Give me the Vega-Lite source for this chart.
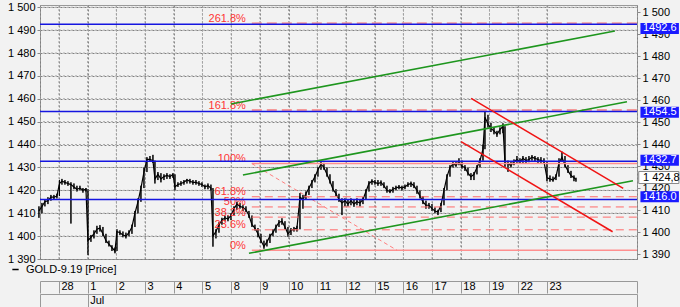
{
"$schema": "https://vega.github.io/schema/vega-lite/v6.json",
"width": 597, "height": 254,
"autosize": {"type": "none"},
"padding": {"left": 40, "top": 5, "right": 43, "bottom": 48},
"background": "#f2f2f2",
"config": {"view": {"stroke": "#999999", "fill": "#f2f2f2"}, "font": "Liberation Sans",
  "axis": {"labelFont": "Liberation Sans", "labelFontSize": 11, "labelColor": "#000000", "labelOverlap": false, "labelFlush": false,
    "gridColor": "#808080", "gridDash": [2, 2], "gridWidth": 1, "gridOpacity": 1}},
"datasets": {
"xgrid": [{"d":0},{"d":1},{"d":2},{"d":3},{"d":4},{"d":5},{"d":6},{"d":7},{"d":8},{"d":9},{"d":10},{"d":11},{"d":12},{"d":13},{"d":14},{"d":15},{"d":16},{"d":17}],
"ygrid": [{"g":1400},{"g":1410},{"g":1420},{"g":1430},{"g":1440},{"g":1450},{"g":1460},{"g":1470},{"g":1480},{"g":1490},{"g":1500}],
"price": [
{"t":-0.697,"c":1411,"lo":1408,"hi":1413},{"t":-0.592,"c":1413,"lo":1410,"hi":1414.5},{"t":-0.488,"c":1415,"lo":1413,"hi":1416},{"t":-0.383,"c":1415.5,"lo":1414,"hi":1417},{"t":-0.279,"c":1417,"lo":1415.5,"hi":1418},{"t":-0.174,"c":1417,"lo":1416,"hi":1418},{"t":-0.07,"c":1417.5,"lo":1416.5,"hi":1418.5},
{"t":0.017,"c":1423,"lo":1417.5,"hi":1424.5},{"t":0.105,"c":1424,"lo":1422.5,"hi":1425},{"t":0.209,"c":1423.5,"lo":1422.5,"hi":1424.5},{"t":0.314,"c":1423,"lo":1422,"hi":1424},{"t":0.418,"c":1422.5,"lo":1405.5,"hi":1423.5},{"t":0.523,"c":1421.5,"lo":1420.5,"hi":1423},{"t":0.627,"c":1420.5,"lo":1419.5,"hi":1422},{"t":0.732,"c":1421,"lo":1420,"hi":1422},{"t":0.836,"c":1420,"lo":1419,"hi":1421},{"t":0.941,"c":1420.5,"lo":1419.5,"hi":1421},
{"t":1.01,"c":1398,"lo":1391.7,"hi":1420.5},{"t":1.115,"c":1399.5,"lo":1397.5,"hi":1400.5},{"t":1.22,"c":1401,"lo":1399,"hi":1402.5},{"t":1.324,"c":1403,"lo":1401,"hi":1404.5},{"t":1.429,"c":1403.5,"lo":1402,"hi":1404.8},{"t":1.533,"c":1401,"lo":1400,"hi":1404},{"t":1.638,"c":1398,"lo":1397,"hi":1401},{"t":1.742,"c":1396.5,"lo":1395.5,"hi":1398},{"t":1.847,"c":1395,"lo":1393.5,"hi":1396},{"t":1.951,"c":1393.5,"lo":1392.5,"hi":1395},
{"t":2.021,"c":1402,"lo":1393.5,"hi":1403},{"t":2.125,"c":1401.5,"lo":1400.5,"hi":1402.5},{"t":2.23,"c":1400.5,"lo":1399.5,"hi":1402},{"t":2.334,"c":1400,"lo":1399,"hi":1401.5},{"t":2.439,"c":1401.5,"lo":1400,"hi":1402.5},{"t":2.544,"c":1404,"lo":1401,"hi":1405},{"t":2.648,"c":1410,"lo":1404,"hi":1411},{"t":2.753,"c":1415,"lo":1410,"hi":1416.5},{"t":2.857,"c":1421,"lo":1415,"hi":1422},{"t":2.962,"c":1428,"lo":1421,"hi":1430},
{"t":3.066,"c":1433.5,"lo":1428,"hi":1434.5},{"t":3.171,"c":1433.5,"lo":1432.5,"hi":1435},{"t":3.275,"c":1433,"lo":1432,"hi":1435.5},{"t":3.345,"c":1425,"lo":1423,"hi":1433},{"t":3.449,"c":1427,"lo":1424.5,"hi":1428},{"t":3.554,"c":1425,"lo":1423.5,"hi":1427.5},{"t":3.659,"c":1426,"lo":1424.5,"hi":1427},{"t":3.763,"c":1426.5,"lo":1425,"hi":1427.5},{"t":3.868,"c":1426,"lo":1425,"hi":1427},{"t":3.972,"c":1427,"lo":1425.5,"hi":1427.5},
{"t":4.042,"c":1421.5,"lo":1420,"hi":1427},{"t":4.146,"c":1422.5,"lo":1421.5,"hi":1423.5},{"t":4.251,"c":1423,"lo":1422,"hi":1424},{"t":4.355,"c":1423.5,"lo":1422.5,"hi":1424.5},{"t":4.46,"c":1424.5,"lo":1423,"hi":1425},{"t":4.564,"c":1424,"lo":1423,"hi":1425},{"t":4.669,"c":1423.5,"lo":1422.5,"hi":1424.5},{"t":4.774,"c":1423.5,"lo":1422.5,"hi":1424.5},{"t":4.878,"c":1423,"lo":1422,"hi":1424},{"t":4.983,"c":1422.5,"lo":1421.5,"hi":1423.5},
{"t":5.087,"c":1421.5,"lo":1420.5,"hi":1422.5},{"t":5.192,"c":1422,"lo":1420.5,"hi":1423},{"t":5.296,"c":1421,"lo":1420,"hi":1422.5},{"t":5.366,"c":1400,"lo":1395.4,"hi":1421},{"t":5.47,"c":1402,"lo":1399,"hi":1403},{"t":5.575,"c":1405,"lo":1401.5,"hi":1406},{"t":5.679,"c":1407,"lo":1405,"hi":1408},{"t":5.784,"c":1408,"lo":1406.5,"hi":1409},{"t":5.889,"c":1407.5,"lo":1406.5,"hi":1409},{"t":5.993,"c":1409,"lo":1407,"hi":1410},
{"t":6.098,"c":1412,"lo":1409,"hi":1413},{"t":6.202,"c":1414,"lo":1411.5,"hi":1415},{"t":6.307,"c":1413,"lo":1412,"hi":1414.5},{"t":6.411,"c":1412.5,"lo":1411,"hi":1413.5},{"t":6.516,"c":1411.5,"lo":1410.5,"hi":1413},{"t":6.62,"c":1409,"lo":1408,"hi":1411},{"t":6.725,"c":1405,"lo":1404,"hi":1409},{"t":6.829,"c":1403.5,"lo":1402.5,"hi":1405},{"t":6.934,"c":1401,"lo":1399.5,"hi":1403.5},
{"t":7.038,"c":1398,"lo":1397,"hi":1401},{"t":7.143,"c":1395.5,"lo":1394.5,"hi":1398},{"t":7.247,"c":1397.5,"lo":1395.5,"hi":1398.5},{"t":7.352,"c":1400,"lo":1397,"hi":1401},{"t":7.456,"c":1401.5,"lo":1400,"hi":1403},{"t":7.561,"c":1404,"lo":1401.5,"hi":1405},{"t":7.666,"c":1406,"lo":1404,"hi":1407},{"t":7.77,"c":1406.5,"lo":1405,"hi":1407.8},{"t":7.875,"c":1404,"lo":1403,"hi":1406.5},{"t":7.979,"c":1401,"lo":1399.7,"hi":1404},
{"t":8.084,"c":1402.5,"lo":1400.5,"hi":1403.5},{"t":8.188,"c":1403,"lo":1402,"hi":1404},{"t":8.293,"c":1403.5,"lo":1402,"hi":1404.5},{"t":8.397,"c":1417,"lo":1403,"hi":1418.8},{"t":8.502,"c":1416,"lo":1412,"hi":1418},{"t":8.606,"c":1418.5,"lo":1416,"hi":1419.5},{"t":8.711,"c":1421,"lo":1418,"hi":1422},{"t":8.815,"c":1423.5,"lo":1421,"hi":1424.5},{"t":8.92,"c":1426,"lo":1423.5,"hi":1427},
{"t":9.024,"c":1429,"lo":1426,"hi":1430},{"t":9.129,"c":1431.5,"lo":1429,"hi":1432.5},{"t":9.233,"c":1430,"lo":1429,"hi":1432},{"t":9.338,"c":1427,"lo":1426,"hi":1430},{"t":9.443,"c":1424,"lo":1423,"hi":1427},{"t":9.547,"c":1420.5,"lo":1419.5,"hi":1424},{"t":9.652,"c":1418.5,"lo":1417.5,"hi":1420.5},{"t":9.756,"c":1416,"lo":1415,"hi":1418.5},{"t":9.861,"c":1414.5,"lo":1409.2,"hi":1416.5},{"t":9.965,"c":1415.5,"lo":1413,"hi":1416.5},
{"t":10.07,"c":1414,"lo":1413,"hi":1416},{"t":10.174,"c":1415.5,"lo":1413.5,"hi":1416.5},{"t":10.279,"c":1414,"lo":1412.8,"hi":1416},{"t":10.383,"c":1415,"lo":1413.5,"hi":1416.5},{"t":10.488,"c":1414.5,"lo":1413,"hi":1416},{"t":10.592,"c":1416,"lo":1414,"hi":1417},{"t":10.697,"c":1419.5,"lo":1416,"hi":1420.5},{"t":10.801,"c":1423,"lo":1419.5,"hi":1424},{"t":10.906,"c":1424,"lo":1422.5,"hi":1424.8},
{"t":11.01,"c":1423.5,"lo":1422.5,"hi":1424.5},{"t":11.115,"c":1423,"lo":1422,"hi":1424.5},{"t":11.22,"c":1423.5,"lo":1422,"hi":1424.3},{"t":11.324,"c":1422,"lo":1421,"hi":1423.5},{"t":11.429,"c":1420,"lo":1419,"hi":1422},{"t":11.533,"c":1419.5,"lo":1418.8,"hi":1420.5},{"t":11.638,"c":1420.5,"lo":1419,"hi":1421.5},{"t":11.742,"c":1421,"lo":1420,"hi":1422},{"t":11.847,"c":1421.5,"lo":1420.5,"hi":1422.3},{"t":11.951,"c":1421,"lo":1420,"hi":1422},
{"t":12.056,"c":1421.5,"lo":1420.5,"hi":1422.5},{"t":12.16,"c":1422.5,"lo":1421.5,"hi":1423.5},{"t":12.265,"c":1423,"lo":1421.5,"hi":1423.8},{"t":12.369,"c":1422,"lo":1421,"hi":1423.5},{"t":12.474,"c":1420,"lo":1418.5,"hi":1422},{"t":12.578,"c":1417.5,"lo":1416.5,"hi":1420},{"t":12.683,"c":1415,"lo":1414,"hi":1417.5},{"t":12.787,"c":1413.5,"lo":1412,"hi":1415.5},{"t":12.892,"c":1413.5,"lo":1412,"hi":1414.5},{"t":12.997,"c":1412,"lo":1411,"hi":1414},
{"t":13.101,"c":1411,"lo":1410,"hi":1412.5},{"t":13.206,"c":1410.5,"lo":1409.2,"hi":1411.5},{"t":13.31,"c":1413.5,"lo":1410.5,"hi":1414.5},{"t":13.415,"c":1420,"lo":1413.5,"hi":1421},{"t":13.519,"c":1426,"lo":1420,"hi":1427},{"t":13.624,"c":1430,"lo":1426,"hi":1431},{"t":13.728,"c":1431.5,"lo":1430,"hi":1432.5},{"t":13.833,"c":1431,"lo":1430.3,"hi":1432.5},{"t":13.937,"c":1432.5,"lo":1431,"hi":1434},
{"t":14.042,"c":1430.5,"lo":1429.5,"hi":1433},{"t":14.146,"c":1430,"lo":1428.5,"hi":1431},{"t":14.251,"c":1427.5,"lo":1426.5,"hi":1430},{"t":14.355,"c":1426,"lo":1424.5,"hi":1427.5},{"t":14.46,"c":1427,"lo":1424.5,"hi":1428},{"t":14.564,"c":1430,"lo":1427,"hi":1431},{"t":14.669,"c":1433,"lo":1430,"hi":1434},{"t":14.774,"c":1438,"lo":1433,"hi":1440},{"t":14.843,"c":1452,"lo":1438,"hi":1455.1},{"t":14.948,"c":1449,"lo":1447.5,"hi":1453},
{"t":15.052,"c":1447,"lo":1445.5,"hi":1449.5},{"t":15.157,"c":1446,"lo":1444.5,"hi":1447.5},{"t":15.261,"c":1444.5,"lo":1443.4,"hi":1446},{"t":15.366,"c":1446.5,"lo":1444.5,"hi":1447.5},{"t":15.47,"c":1448,"lo":1445,"hi":1449.3},{"t":15.54,"c":1432,"lo":1430.3,"hi":1448},{"t":15.645,"c":1431.5,"lo":1428.1,"hi":1433},{"t":15.749,"c":1431,"lo":1430,"hi":1432.5},{"t":15.854,"c":1432.5,"lo":1431,"hi":1433.5},{"t":15.958,"c":1433.5,"lo":1432,"hi":1435},
{"t":16.063,"c":1432.5,"lo":1431.8,"hi":1434},{"t":16.167,"c":1434,"lo":1432,"hi":1435},{"t":16.272,"c":1433,"lo":1432,"hi":1434.5},{"t":16.376,"c":1433.5,"lo":1432.3,"hi":1435},{"t":16.481,"c":1434.5,"lo":1433,"hi":1435.4},{"t":16.585,"c":1434,"lo":1432.5,"hi":1435},{"t":16.69,"c":1433.5,"lo":1432,"hi":1434.5},{"t":16.794,"c":1433,"lo":1432,"hi":1434.5},{"t":16.899,"c":1432.5,"lo":1431.5,"hi":1434},
{"t":17.003,"c":1425.5,"lo":1424,"hi":1432.5},{"t":17.108,"c":1425,"lo":1423.8,"hi":1426.5},{"t":17.213,"c":1424.5,"lo":1423.8,"hi":1426},{"t":17.317,"c":1426,"lo":1424.5,"hi":1427},{"t":17.422,"c":1432,"lo":1426,"hi":1434},{"t":17.526,"c":1434.5,"lo":1432.5,"hi":1436.9},{"t":17.631,"c":1431,"lo":1430,"hi":1435},{"t":17.735,"c":1428.5,"lo":1427.6,"hi":1431},{"t":17.84,"c":1426.5,"lo":1425.4,"hi":1428.5},{"t":17.944,"c":1425.5,"lo":1424,"hi":1426.5},{"t":18.014,"c":1424.8,"lo":1423.8,"hi":1425.5}
],
"fib": [
{"pct":0,"lab":"0%","v":1393.8},{"pct":23.6,"lab":"23.6%","v":1402.75},{"pct":38.2,"lab":"38.2%","v":1408.3},{"pct":50,"lab":"50%","v":1412.75},{"pct":61.8,"lab":"61.8%","v":1417.2},{"pct":100,"lab":"100%","v":1431.7},{"pct":161.8,"lab":"161.8%","v":1455.1},{"pct":261.8,"lab":"261.8%","v":1493.0}
],
"levels": [{"level":1492.6},{"level":1454.5},{"level":1432.7},{"level":1416.0}],
"green": [
{"id":"g1","t":5.99,"v":1457.7},{"id":"g1","t":19.37,"v":1489.6},
{"id":"g2","t":6.41,"v":1426.7},{"id":"g2","t":19.79,"v":1458.7},
{"id":"g3","t":6.62,"v":1392.5},{"id":"g3","t":20.0,"v":1424.2}
],
"red": [
{"id":"r1","t":14.36,"v":1460.2},{"id":"r1","t":19.66,"v":1420.9},
{"id":"r2","t":14.01,"v":1441.3},{"id":"r2","t":19.29,"v":1401.9}
],
"diag": [{"t":6.72,"v":1431.7},{"t":11.78,"v":1393.8}],
"last": [{"price":1424.8,"lab":"1 424,8"}]
},
"layer": [
{
"layer": [
{"data": {"name": "price"},
 "mark": {"type": "rule", "color": "#000000", "strokeWidth": 1},
 "encoding": {
  "x": {"field": "t", "type": "quantitative", "scale": {"domain": [-0.66, 20.14], "nice": false, "zero": false},
   "axis": {"title": null, "orient": "bottom", "offset": 22, "tickCount": 100,
     "values": [-0.66,0,1,2,3,4,5,6,7,8,9,10,11,12,13,14,15,16,17,20.14],
     "grid": true, "labelOverlap": false,
     "domainColor": "#999999", "tickColor": "#999999", "tickSize": 12,
     "labelAlign": "left", "labelBaseline": "middle", "labelPadding": -7, "labelOffset": 2,
     "labelExpr": "datum.value >= 0 && datum.value <= 17 ? ['28','1','2','3','4','5','8','9','10','11','12','15','16','17','18','19','22','23'][datum.value] : ''"}},
  "y": {"field": "lo", "type": "quantitative", "scale": {"domain": [1390, 1501], "nice": false, "zero": false},
   "axis": {"title": null, "orient": "left", "tickCount": 100, "values": [1390,1400,1410,1420,1430,1440,1450,1460,1470,1480,1490,1500],
     "grid": true, "labelOverlap": false, "domain": false, "tickColor": "#888888", "tickSize": 3,
     "labelPadding": 2, "labelExpr": "replace(format(datum.value, ','), ',', ' ')"}},
  "y2": {"field": "hi"}
 }},
{"data": {"name": "xgrid"},
 "mark": {"type": "rule", "color": "#a6a6a6", "strokeWidth": 1, "strokeDash": [2, 2]},
 "encoding": {"x": {"field": "d", "type": "quantitative"}}},
{"data": {"name": "ygrid"},
 "mark": {"type": "rule", "color": "#a6a6a6", "strokeWidth": 1, "strokeDash": [2, 2]},
 "encoding": {"y": {"field": "g", "type": "quantitative"}}},
{"data": {"name": "price"},
 "mark": {"type": "rule", "color": "#000000", "strokeWidth": 1},
 "encoding": {"x": {"field": "t", "type": "quantitative"}, "y": {"field": "lo", "type": "quantitative"}, "y2": {"field": "hi"}}},
{"data": {"name": "price"},
 "mark": {"type": "line", "strokeWidth": 1.2},
 "encoding": {
  "x": {"field": "t", "type": "quantitative"},
  "y": {"field": "c", "type": "quantitative"},
  "color": {"datum": "GOLD-9.19 [Price]", "type": "nominal", "scale": {"range": ["#000000"]},
   "legend": {"orient": "none", "legendX": -30, "legendY": 259, "title": null, "symbolType": "stroke",
     "symbolSize": 40, "symbolStrokeWidth": 1.5, "labelFontSize": 11, "labelColor": "#000000",
     "labelFont": "Liberation Sans", "labelOffset": 5}}
 }},
{"data": {"name": "fib"},
 "transform": [{"filter": "datum.pct == 0 || datum.pct == 100"}],
 "mark": {"type": "rule", "color": "#ff8f8f", "strokeWidth": 1.5},
 "encoding": {"x": {"datum": 6.72, "type": "quantitative"}, "x2": {"datum": 20.14}, "y": {"field": "v", "type": "quantitative"}}},
{"data": {"name": "fib"},
 "transform": [{"filter": "datum.pct > 0 && datum.pct < 100"}],
 "mark": {"type": "rule", "color": "#ff6a6a", "strokeWidth": 1, "strokeDash": [8, 5]},
 "encoding": {"x": {"datum": 6.72, "type": "quantitative"}, "x2": {"datum": 20.14}, "y": {"field": "v", "type": "quantitative"}}},
{"data": {"name": "fib"},
 "transform": [{"filter": "datum.pct > 100"}],
 "mark": {"type": "rule", "color": "#f59a9a", "strokeWidth": 2, "strokeDash": [10, 5]},
 "encoding": {"x": {"datum": 6.72, "type": "quantitative"}, "x2": {"datum": 20.14}, "y": {"field": "v", "type": "quantitative"}}},
{"data": {"name": "diag"},
 "mark": {"type": "line", "color": "#ff8080", "strokeWidth": 1, "strokeDash": [4, 3]},
 "encoding": {"x": {"field": "t", "type": "quantitative"}, "y": {"field": "v", "type": "quantitative"}}},
{"data": {"name": "fib"},
 "mark": {"type": "text", "color": "#ff3535", "fontSize": 11, "align": "right", "baseline": "alphabetic", "dx": -6, "dy": -1.5},
 "encoding": {"x": {"datum": 6.72, "type": "quantitative"}, "y": {"field": "v", "type": "quantitative"}, "text": {"field": "lab"}}},
{"data": {"name": "levels"},
 "mark": {"type": "rule", "color": "#1515e0", "strokeWidth": 1.5},
 "encoding": {"y": {"field": "level", "type": "quantitative"}}},
{"data": {"name": "green"},
 "mark": {"type": "line", "color": "#1e961e", "strokeWidth": 1.6},
 "encoding": {"x": {"field": "t", "type": "quantitative"}, "y": {"field": "v", "type": "quantitative"}, "detail": {"field": "id"}}},
{"data": {"name": "red"},
 "mark": {"type": "line", "color": "#f01414", "strokeWidth": 1.5},
 "encoding": {"x": {"field": "t", "type": "quantitative"}, "y": {"field": "v", "type": "quantitative"}, "detail": {"field": "id"}}}
]
},
{
"layer": [
{"data": {"name": "levels"},
 "mark": {"type": "bar", "color": "#1a1aff", "height": 11, "orient": "horizontal"},
 "encoding": {
  "x": {"datum": 20.26, "type": "quantitative", "scale": {"domain": [-0.66, 20.14], "nice": false, "zero": false},
   "axis": {"title": null, "orient": "bottom", "offset": 35, "tickCount": 100, "values": [-0.66, 1, 20.14], "grid": false, "labelOverlap": false,
     "domainColor": "#999999", "tickColor": "#999999", "tickSize": 13,
     "labelAlign": "left", "labelBaseline": "middle", "labelPadding": -7, "labelOffset": 2,
     "labelExpr": "datum.value == 1 ? 'Jul' : ''"}},
  "x2": {"datum": 21.6},
  "y": {"field": "level", "type": "quantitative", "scale": {"domain": [1390, 1501], "nice": false, "zero": false},
   "axis": {"title": null, "orient": "right", "tickCount": 100, "values": [1390,1400,1410,1420,1430,1440,1450,1460,1470,1480,1490,1500],
     "grid": false, "labelOverlap": false, "domain": false, "tickColor": "#888888", "tickSize": 3, "labelPadding": 2,
     "labelExpr": "replace(format(datum.value, ','), ',', ' ')"}}
 }},
{"data": {"name": "levels"},
 "mark": {"type": "text", "color": "#ffffff", "fontSize": 11, "align": "left", "baseline": "middle", "dx": 6},
 "encoding": {"x": {"datum": 20.14, "type": "quantitative"}, "y": {"field": "level", "type": "quantitative"},
   "text": {"field": "level", "type": "quantitative", "format": ".1f"}}},
{"data": {"name": "last"},
 "mark": {"type": "bar", "fill": "#ffffff", "stroke": "#8a8a8a", "strokeWidth": 1, "height": 12, "orient": "horizontal"},
 "encoding": {"x": {"datum": 20.2, "type": "quantitative"}, "x2": {"datum": 21.6}, "y": {"field": "price", "type": "quantitative"}}},
{"data": {"name": "last"},
 "mark": {"type": "text", "color": "#000000", "fontSize": 11, "align": "left", "baseline": "middle", "dx": 6},
 "encoding": {"x": {"datum": 20.14, "type": "quantitative"}, "y": {"field": "price", "type": "quantitative"}, "text": {"field": "lab"}}}
]
}
],
"resolve": {"scale": {"x": "independent", "y": "independent"}}
}
